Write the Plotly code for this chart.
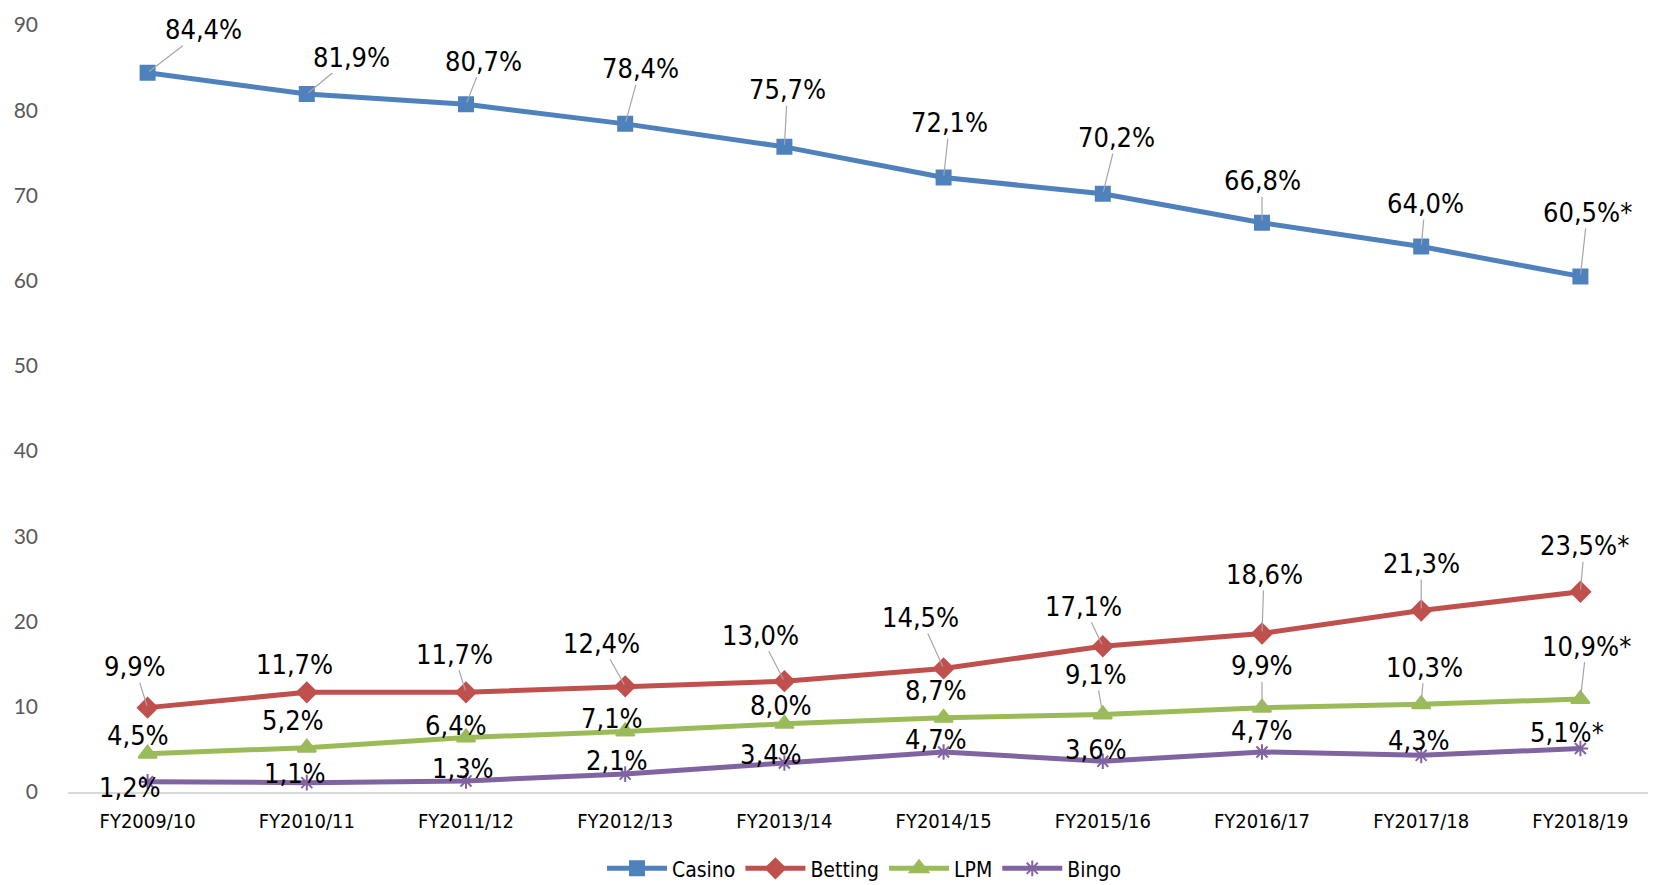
import plotly.graph_objects as go

NARROW = "Liberation Sans Narrow, DejaVu Sans Condensed, Liberation Sans, sans-serif"
GRAY_TICK = "#595959"
LEADER = "#A6A6A6"

years = ["FY2009/10", "FY2010/11", "FY2011/12", "FY2012/13", "FY2013/14",
         "FY2014/15", "FY2015/16", "FY2016/17", "FY2017/18", "FY2018/19"]

casino = [84.4, 81.9, 80.7, 78.4, 75.7, 72.1, 70.2, 66.8, 64.0, 60.5]
betting = [9.9, 11.7, 11.7, 12.4, 13.0, 14.5, 17.1, 18.6, 21.3, 23.5]
lpm = [4.5, 5.2, 6.4, 7.1, 8.0, 8.7, 9.1, 9.9, 10.3, 10.9]
bingo = [1.2, 1.1, 1.3, 2.1, 3.4, 4.7, 3.6, 4.7, 4.3, 5.1]

last_mark = "*"

# label offsets in pixels (text centre relative to its point)
casino_off = [(56, -43), (45, -37), (17, -43), (15, -55), (3, -57),
              (6, -55), (14, -56), (0, -42), (4, -43), (7, -64)]
betting_off = [(-13, -41), (-12, -28), (-12, -38), (-24, -43), (-24, -46),
               (-23, -51), (-19, -40), (2, -59), (0, -47), (4, -46)]
lpm_off = [(-10, -18), (-14, -27), (-10, -12), (-13, -13), (-3, -18),
           (-8, -27), (-7, -40), (0, -42), (3, -37), (6, -53)]
bingo_off = [(-18, 6), (-12, -9), (-3, -12), (-8, -14), (-13, -9),
             (-8, -12), (-7, -12), (0, -21), (-2, -15), (-13, -16)]

series = [
    ("Casino", casino, "#4F81BD", "square", 14, casino_off),
    ("Betting", betting, "#C0504D", "diamond", 15, betting_off),
    ("LPM", lpm, "#9BBB59", "triangle-up", 16, lpm_off),
    ("Bingo", bingo, "#8064A2", "asterisk-open", 13, bingo_off),
]


def fmt(v, last):
    s = f"{v:.1f}".replace(".", ",") + "%"
    return s + last_mark if last else s


fig = go.Figure()
annotations = []
for name, vals, color, symbol, msize, offs in series:
    fig.add_trace(go.Scatter(
        x=years, y=vals, name=name, mode="lines+markers",
        line=dict(color=color, width=5),
        marker=dict(symbol=symbol, size=msize, color=color,
                    line=dict(color=color, width=2)),
    ))
    for i, (yr, v) in enumerate(zip(years, vals)):
        ax, ay = offs[i]
        annotations.append(dict(
            x=yr, y=v, xref="x", yref="y",
            text=fmt(v, i == len(vals) - 1),
            showarrow=True, ax=ax, ay=ay, arrowhead=0, arrowwidth=1.2,
            arrowcolor=LEADER if abs(ay) >= 35 else "rgba(0,0,0,0)",
            standoff=2, borderpad=0,
            font=dict(family=NARROW, size=27, color="#000000"),
        ))

fig.update_layout(
    width=1656, height=885,
    plot_bgcolor="white", paper_bgcolor="white",
    margin=dict(t=17, b=95, l=60, r=4),
    annotations=annotations,
    showlegend=True,
    legend=dict(orientation="h", x=0.5, xanchor="center", y=-0.1,
                yanchor="middle",
                font=dict(family=NARROW, size=21, color="#000000"),
                itemwidth=60),
    xaxis=dict(
        type="category", range=[-0.5, 9.5], showgrid=False, automargin=False,
        showline=True, linecolor="#D9D9D9", linewidth=2, zeroline=False,
        ticks="", ticklabelstandoff=10,
        tickfont=dict(family=NARROW, size=20, color="#000000"),
    ),
    yaxis=dict(
        range=[0, 90], dtick=10, showgrid=False, zeroline=False, showline=False,
        automargin=False,
        tickfont=dict(family="Lato, Open Sans, sans-serif", size=21, color=GRAY_TICK),
        ticklabelstandoff=29,
    ),
)

fig.write_html("out.html")
